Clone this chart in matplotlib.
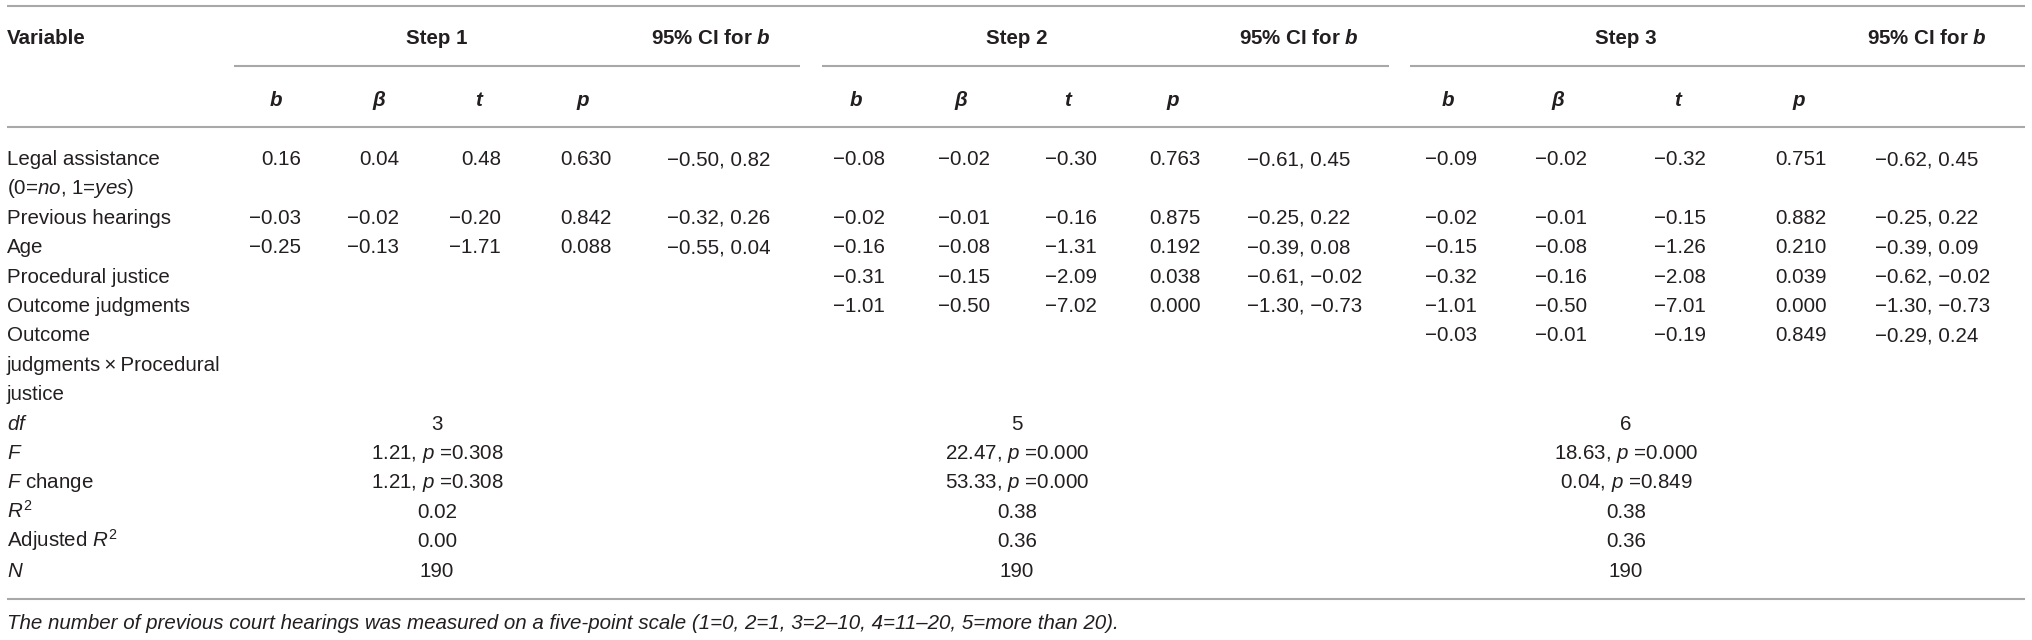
import numpy as np
import matplotlib.pyplot as plt

plt.rcParams['font.family'] = ['Liberation Sans', 'DejaVu Sans']
plt.rcParams['mathtext.fontset'] = 'custom'
plt.rcParams['mathtext.rm'] = 'Liberation Sans'
plt.rcParams['mathtext.it'] = 'Liberation Sans:italic'
plt.rcParams['mathtext.bf'] = 'Liberation Sans:italic:bold'

## data
var_labels = ["Legal assistance\n(0=$\\mathit{no}$, 1=$\\mathit{yes}$)", "Previous hearings", "Age",
              "Procedural justice", "Outcome judgments",
              "Outcome\njudgments\u2009\u00d7\u2009Procedural\njustice"]
var_rows = [0, 2, 3, 4, 5, 6]   # row index where each variable starts

nan = np.nan
b_vals = [[0.16, -0.03, -0.25, nan, nan, nan],
          [-0.08, -0.02, -0.16, -0.31, -1.01, nan],
          [-0.09, -0.02, -0.15, -0.32, -1.01, -0.03]]
beta_vals = [[0.04, -0.02, -0.13, nan, nan, nan],
             [-0.02, -0.01, -0.08, -0.15, -0.50, nan],
             [-0.02, -0.01, -0.08, -0.16, -0.50, -0.01]]
t_vals = [[0.48, -0.20, -1.71, nan, nan, nan],
          [-0.30, -0.16, -1.31, -2.09, -7.02, nan],
          [-0.32, -0.15, -1.26, -2.08, -7.01, -0.19]]
p_vals = [[0.630, 0.842, 0.088, nan, nan, nan],
          [0.763, 0.875, 0.192, 0.038, 0.000, nan],
          [0.751, 0.882, 0.210, 0.039, 0.000, 0.849]]
ci_low = [[-0.50, -0.32, -0.55, nan, nan, nan],
          [-0.61, -0.25, -0.39, -0.61, -1.30, nan],
          [-0.62, -0.25, -0.39, -0.62, -1.30, -0.29]]
ci_high = [[0.82, 0.26, 0.04, nan, nan, nan],
           [0.45, 0.22, 0.08, -0.02, -0.73, nan],
           [0.45, 0.22, 0.09, -0.02, -0.73, 0.24]]

summary_labels = ["$df$", "$F$", "$F$ change", "$R^2$", "Adjusted $R^2$", "$N$"]
df_vals = [3, 5, 6]
f_vals = [1.21, 22.47, 18.63]
f_p = [0.308, 0.000, 0.000]
fchange_vals = [1.21, 53.33, 0.04]
fchange_p = [0.308, 0.000, 0.849]
r2_vals = [0.02, 0.38, 0.38]
adj_r2_vals = [0.00, 0.36, 0.36]
n_vals = [190, 190, 190]

step_names = ["Step 1", "Step 2", "Step 3"]
footnote = ("The number of previous court hearings was measured on a five-point scale "
            "(1=0, 2=1, 3=2\u201310, 4=11\u201320, 5=more than 20).")

## layout (pixels)
W, H = 2032, 640
fs = 14.8
txt = '#231f20'
line_col = '#a8a8a8'
step_center = [437, 1017, 1626]
ci_head_left = [651, 1239, 1867]
head_x = [[276, 379, 479, 583], [856, 961, 1068, 1173], [1448, 1558, 1678, 1799]]
col_right = [[301, 399, 501, 612], [885, 990, 1097, 1201], [1477, 1587, 1706, 1827]]
ci_left = [667, 1247, 1875]
underline = [(234, 800), (822, 1389), (1410, 2025)]
row0, drow = 165, 29.4


def fmt(v, d=2):
    return f"{v:.{d}f}".replace('-', '\u2212')


def row_y(i):
    return row0 + i*drow


fig = plt.figure(figsize=(W/100, H/100), dpi=100)
ax = fig.add_axes([0, 0, 1, 1])
ax.set_xlim(0, W); ax.set_ylim(H, 0)
ax.axis('off')

# rules
for y in [6, 127, 599]:
    ax.plot([7, 2025], [y, y], color=line_col, lw=1.5, solid_capstyle='butt')
for x0, x1 in underline:
    ax.plot([x0, x1], [66, 66], color=line_col, lw=1.5, solid_capstyle='butt')

# headers
ax.text(7, 44.5, "Variable", fontsize=fs, fontweight='bold', color=txt, va='baseline')
for s in range(3):
    ax.text(step_center[s], 44.5, step_names[s], fontsize=fs, fontweight='bold',
            color=txt, ha='center', va='baseline')
    ax.text(ci_head_left[s], 44.5, "95% CI for $\\mathbf{b}$", fontsize=fs,
            fontweight='bold', color=txt, va='baseline')
    for hx, h in zip(head_x[s], ["b", "\u03b2", "t", "p"]):
        ax.text(hx, 105.5, h, fontsize=fs, fontweight='bold', fontstyle='italic',
                color=txt, ha='center', va='baseline')

# variable rows
for lab, r in zip(var_labels, var_rows):
    for k, part in enumerate(lab.split("\n")):
        ax.text(7, row_y(r + k), part, fontsize=fs, color=txt, va='baseline')

for s in range(3):
    for j, r in enumerate(var_rows):
        if np.isnan(b_vals[s][j]):
            continue
        y = row_y(r)
        cells = [fmt(b_vals[s][j]), fmt(beta_vals[s][j]), fmt(t_vals[s][j]),
                 fmt(p_vals[s][j], 3)]
        for cx, c in zip(col_right[s], cells):
            ax.text(cx, y, c, fontsize=fs, color=txt, ha='right', va='baseline')
        ax.text(ci_left[s], y, fmt(ci_low[s][j]) + ", " + fmt(ci_high[s][j]),
                fontsize=fs, color=txt, ha='left', va='baseline')

# model summary rows
for k, lab in enumerate(summary_labels):
    ax.text(7, row_y(9 + k), lab, fontsize=fs, color=txt, va='baseline')
for s in range(3):
    cells = [str(df_vals[s]),
             fmt(f_vals[s]) + ", $p$ =" + fmt(f_p[s], 3),
             fmt(fchange_vals[s]) + ", $p$ =" + fmt(fchange_p[s], 3),
             fmt(r2_vals[s]), fmt(adj_r2_vals[s]), str(n_vals[s])]
    for k, c in enumerate(cells):
        ax.text(step_center[s], row_y(9 + k), c, fontsize=fs, color=txt,
                ha='center', va='baseline')

ax.text(7, 629, footnote, fontsize=fs, fontstyle='italic', color=txt, va='baseline')

fig.savefig("out.png", dpi=100)
